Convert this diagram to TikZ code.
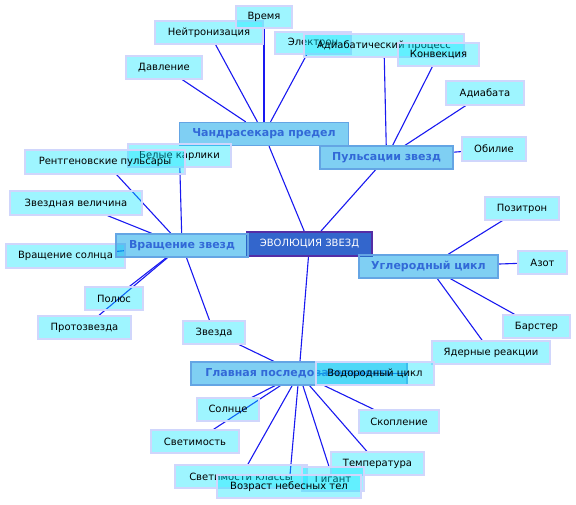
\documentclass[tikz,border=0pt]{standalone}
\usepackage{fontspec}
\setmainfont{DejaVu Sans}
\usetikzlibrary{backgrounds}
\definecolor{leaffill}{RGB}{0,230,255}
\definecolor{leafborder}{RGB}{208,214,252}
\definecolor{mainfill}{RGB}{0,160,232}
\definecolor{mainborder}{RGB}{100,165,228}
\definecolor{maintext}{RGB}{50,105,215}
\definecolor{hubfill}{RGB}{51,102,204}
\definecolor{hubborder}{RGB}{85,45,165}
\definecolor{edgecol}{RGB}{25,25,240}
\tikzset{
  leaf/.style={draw=leafborder, line width=1.3pt, fill=leaffill, fill opacity=0.38, text opacity=1, draw opacity=1,
    inner sep=0pt, minimum height=23pt, font=\fontsize{10pt}{12pt}\selectfont, text=black},
  mainbox/.style={draw=mainborder, line width=1.3pt, fill=mainfill, fill opacity=0.5, text opacity=1, draw opacity=1,
    inner sep=0pt, minimum height=23pt, font=\fontsize{11pt}{13pt}\selectfont\bfseries, text=maintext},
  hubbox/.style={draw=hubborder, line width=1.5pt, fill=hubfill, inner sep=0pt, minimum height=24pt,
    font=\fontsize{10pt}{12pt}\selectfont, text=white},
  edge/.style={draw=edgecol, line width=1.1pt}
}
\begin{document}
\begin{tikzpicture}[x=1pt,y=-1pt]
\useasboundingbox (0,0) rectangle (576,505);
% hub and main boxes
\node[hubbox, minimum width=125pt] (evol) at (309.5,244) {ЭВОЛЮЦИЯ ЗВЕЗД};
\node[mainbox, minimum width=169pt] (chandra) at (264,134) {Чандрасекара предел};
\node[mainbox, minimum width=133pt] (puls) at (386.5,157.5) {Пульсации звезд};
\node[leaf, minimum width=119pt, minimum height=24pt] (vrsol) at (65.5,256) {Вращение солнца};
\node[mainbox, minimum width=132pt] (vrash) at (182,245.5) {Вращение звезд};
\node[mainbox, minimum width=139pt] (uglerod) at (428.5,266.5) {Углеродный цикл};
\node[mainbox, minimum width=216pt] (glav) at (299,373.5) {Главная последовательность};
% Chandrasekhar leaves
\node[leaf, minimum width=76pt] (davl) at (164,67.5) {Давление};
\node[leaf, minimum width=108pt] (neitron) at (209,32.5) {Нейтронизация};
\node[leaf, minimum width=56pt, minimum height=22pt] (vremya) at (264,17) {Время};
\node[leaf, minimum width=76pt, minimum height=22pt] (elektron) at (313,43) {Электрон};
% pulsation leaves
\node[leaf, minimum width=160pt] (adproc) at (384,45.5) {Адиабатический процесс};
\node[leaf, minimum width=81pt] (konv) at (438.5,54.5) {Конвекция};
\node[leaf, minimum width=78pt, minimum height=24pt] (adiab) at (485,93) {Адиабата};
\node[leaf, minimum width=64pt, minimum height=24pt] (obil) at (494,149) {Обилие};
% rotation leaves
\node[leaf, minimum width=103pt] (belye) at (179.5,155.5) {Белые карлики};
\node[leaf, minimum width=160pt, minimum height=24pt] (rentgen) at (105,162) {Рентгеновские пульсары};
\node[leaf, minimum width=132pt, minimum height=24pt] (zvvel) at (76,203) {Звездная величина};
\node[leaf, minimum width=58pt] (polus) at (114,298.5) {Полюс};
\node[leaf, minimum width=93pt] (proto) at (84.5,327.5) {Протозвезда};
\node[leaf, minimum width=62pt] (zvezda) at (214,332.5) {Звезда};
% carbon cycle leaves
\node[leaf, minimum width=74pt] (pozitron) at (522,208.5) {Позитрон};
\node[leaf, minimum width=49pt] (azot) at (542.5,262.5) {Азот};
\node[leaf, minimum width=67pt] (barster) at (536.5,326.5) {Барстер};
\node[leaf, minimum width=118pt] (yader) at (491,352.5) {Ядерные реакции};
% main sequence leaves
\node[leaf, minimum width=118pt] (vodorod) at (375,373.5) {Водородный цикл};
\node[leaf, minimum width=62pt] (solnce) at (228,409.5) {Солнце};
\node[leaf, minimum width=88pt] (svetim) at (195,441.5) {Светимость};
\node[leaf, minimum width=80pt] (skopl) at (399,421.5) {Скопление};
\node[leaf, minimum width=93pt] (temper) at (377.5,463.5) {Температура};
\node[leaf, minimum width=132pt] (svklass) at (241,476.5) {Светимости классы};
\node[leaf, minimum width=62pt, minimum height=24pt] (gigant) at (333,479) {Гигант};
\node[leaf, minimum width=144pt] (vozrast) at (289,486.5) {Возраст небесных тел};
\begin{pgfonlayer}{background}
\draw[edge] (evol) -- (chandra);
\draw[edge] (evol) -- (puls);
\draw[edge] (evol) -- (vrash);
\draw[edge] (evol) -- (uglerod);
\draw[edge] (evol) -- (glav);
\draw[edge] (chandra) -- (davl);
\draw[edge] (chandra) -- (neitron);
\draw[edge] (chandra) -- (vremya);
\draw[edge] (chandra) -- (elektron);
\draw[edge] (puls) -- (adproc);
\draw[edge] (puls) -- (konv);
\draw[edge] (puls) -- (adiab);
\draw[edge] (puls) -- (obil);
\draw[edge] (vrash) -- (belye);
\draw[edge] (vrash) -- (rentgen);
\draw[edge] (vrash) -- (zvvel);
\draw[edge] (vrash) -- (vrsol);
\draw[edge] (vrash) -- (polus);
\draw[edge] (vrash) -- (proto);
\draw[edge] (vrash) -- (zvezda);
\draw[edge] (uglerod) -- (pozitron);
\draw[edge] (uglerod) -- (azot);
\draw[edge] (uglerod) -- (barster);
\draw[edge] (uglerod) -- (yader);
\draw[edge] (glav) -- (zvezda);
\draw[edge] (glav) -- (vodorod);
\draw[edge] (glav) -- (solnce);
\draw[edge] (glav) -- (svetim);
\draw[edge] (glav) -- (skopl);
\draw[edge] (glav) -- (temper);
\draw[edge] (glav) -- (svklass);
\draw[edge] (glav) -- (gigant);
\draw[edge] (glav) -- (vozrast);
\end{pgfonlayer}
\end{tikzpicture}
\end{document}
